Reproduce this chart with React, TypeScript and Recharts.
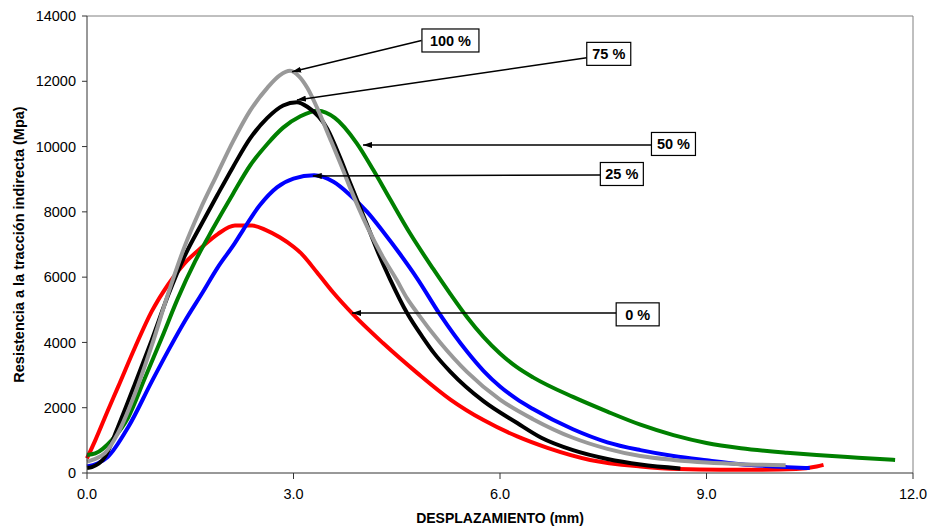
import {
  LineChart,
  Line,
  XAxis,
  YAxis,
  ReferenceLine,
  ReferenceDot,
} from 'recharts';

type Pt = [number, number];

// desplazamiento (mm), resistencia (Mpa)
const curve0: Pt[] = [
  [0, 450], [0.12, 1000], [0.3, 1900], [0.45, 2630], [0.7, 3860], [0.94, 4950],
  [1.18, 5780], [1.42, 6430], [1.67, 6920], [1.9, 7320], [2.15, 7580], [2.4, 7580],
  [2.6, 7440], [2.8, 7220], [3.0, 6930], [3.1, 6750], [3.34, 6150], [3.58, 5520],
  [3.87, 4850], [4.3, 3980], [4.8, 3060], [5.28, 2250], [5.76, 1620], [6.25, 1120],
  [6.69, 770], [7.31, 400], [8.04, 200], [8.6, 120], [9.2, 100], [9.8, 100],
  [10.3, 120], [10.6, 200], [10.7, 250],
];

const curve25: Pt[] = [
  [0, 200], [0.3, 490], [0.6, 1410], [0.94, 2800], [1.18, 3750], [1.42, 4650],
  [1.67, 5500], [1.9, 6300], [2.15, 7050], [2.27, 7450], [2.51, 8200], [2.76, 8750],
  [3.0, 9020], [3.3, 9120], [3.58, 8920], [3.82, 8520], [4.07, 8000], [4.3, 7400],
  [4.55, 6700], [4.8, 5950], [5.13, 4850], [5.52, 3720], [5.76, 3130], [6.0, 2650],
  [6.24, 2270], [6.48, 1960], [7.06, 1340], [7.56, 940], [8.04, 700], [8.52, 520],
  [9.0, 390], [9.5, 270], [10.17, 180], [10.5, 150],
];

const curve50: Pt[] = [
  [0, 550], [0.12, 600], [0.36, 1010], [0.6, 1710], [0.84, 2900], [1.09, 4160],
  [1.32, 5350], [1.57, 6480], [1.82, 7450], [2.12, 8550], [2.37, 9420], [2.62, 10080],
  [2.85, 10580], [3.1, 10930], [3.36, 11100], [3.6, 10880], [3.92, 10100], [4.16, 9280],
  [4.4, 8400], [4.69, 7350], [5.03, 6250], [5.28, 5480], [5.52, 4780], [5.76, 4170],
  [6.0, 3660], [6.24, 3250], [6.48, 2930], [7.06, 2330], [7.56, 1880], [8.04, 1480],
  [8.52, 1160], [9.0, 920], [9.5, 760], [10.17, 620], [10.6, 550], [11.2, 470],
  [11.74, 400],
];

const curve75: Pt[] = [
  [0, 150], [0.07, 180], [0.26, 490], [0.45, 1410], [0.7, 2750], [0.94, 4070],
  [1.18, 5450], [1.42, 6650], [1.67, 7650], [1.89, 8500], [2.12, 9370], [2.37, 10250],
  [2.62, 10880], [2.85, 11260], [3.05, 11360], [3.2, 11220], [3.49, 10550], [3.68, 9650],
  [3.82, 8900], [3.92, 8380], [4.07, 7600], [4.26, 6600], [4.4, 5950], [4.65, 4900],
  [4.88, 4150], [5.05, 3650], [5.28, 3100], [5.76, 2200], [6.25, 1530], [6.6, 1080],
  [7.06, 700], [7.56, 430], [8.04, 260], [8.62, 140],
];

const curve100: Pt[] = [
  [0, 350], [0.1, 420], [0.26, 610], [0.45, 1220], [0.7, 2450], [0.94, 3900],
  [1.18, 5500], [1.42, 6950], [1.64, 8050], [1.89, 9150], [2.12, 10150], [2.37, 11100],
  [2.62, 11800], [2.8, 12180], [2.95, 12320], [3.08, 12150], [3.2, 11800], [3.34, 11200],
  [3.53, 10250], [3.72, 9280], [3.82, 8750], [4.07, 7550], [4.3, 6610], [4.5, 5910],
  [4.65, 5350], [4.8, 4900], [5.13, 4000], [5.52, 3100], [6.0, 2250], [6.48, 1650],
  [7.06, 1080], [7.56, 740], [8.04, 520], [8.52, 400], [9.0, 320], [9.5, 270],
  [10.15, 240],
];

const xTicks = [0, 3, 6, 9, 12];
const yTicks = [0, 2000, 4000, 6000, 8000, 10000, 12000, 14000];

// callout labels: box centre, arrow tail and tip (data units)
const labels = ['100 %', '75 %', '50 %', '25 %', '0 %'];
const boxX = [5.28, 7.58, 8.52, 7.77, 8.0];
const boxY = [13250, 12840, 10080, 9160, 4860];
const boxW = [57, 44, 44, 43, 43];
const tailPts: Pt[] = [[4.86, 13250], [7.26, 12720], [8.2, 10050], [7.46, 9130], [7.69, 4900]];
const tipPts: Pt[] = [[2.98, 12290], [3.05, 11430], [4.01, 10050], [3.28, 9100], [3.85, 4900]];

const series = [
  { name: '0 %', pts: curve0, color: '#ff0000' },
  { name: '25 %', pts: curve25, color: '#0000ff' },
  { name: '50 %', pts: curve50, color: '#008000' },
  { name: '75 %', pts: curve75, color: '#000000' },
  { name: '100 %', pts: curve100, color: '#999999' },
];

const font = '"Liberation Sans", Arial, sans-serif';

export default function App() {
  return (
    <div style={{ position: 'absolute', left: 0, top: 0, background: '#fff' }}>
      <LineChart
        width={932}
        height={531}
        margin={{ top: 16, right: 19, left: 0, bottom: 8 }}
        style={{ fontFamily: font }}
      >
        <defs>
          <marker id="arrowHead" markerWidth="9" markerHeight="6" refX="9" refY="3" orient="auto" markerUnits="userSpaceOnUse">
            <path d="M0,0 L9,3 L0,6 Z" fill="#000" />
          </marker>
        </defs>
        <XAxis
          type="number"
          dataKey="x"
          domain={[0, 12]}
          ticks={xTicks}
          tickFormatter={(v: number) => v.toFixed(1)}
          height={50}
          tickSize={6}
          tickMargin={10}
          stroke="#333"
          tick={{ fill: '#000', fontSize: 14.5 }}
          label={{
            value: 'DESPLAZAMIENTO (mm)',
            position: 'insideBottom',
            offset: 0,
            style: { fontWeight: 'bold', fontSize: 14, fill: '#000' },
          }}
        />
        <YAxis
          type="number"
          dataKey="y"
          domain={[0, 14000]}
          ticks={yTicks}
          width={87}
          tickSize={5}
          tickMargin={6}
          stroke="#333"
          tick={{ fill: '#000', fontSize: 14.5 }}
          label={{
            value: 'Resistencia a la tracción indirecta (Mpa)',
            angle: -90,
            position: 'insideLeft',
            offset: 19,
            style: { textAnchor: 'middle', fontWeight: 'bold', fontSize: 14.5, fill: '#000' },
          }}
        />
        <ReferenceLine y={14000} stroke="#808080" />
        <ReferenceLine x={12} stroke="#808080" />
        {series.map(s => (
          <Line
            key={s.name}
            data={s.pts.map(([x, y]) => ({ x, y }))}
            dataKey="y"
            name={s.name}
            type="monotone"
            stroke={s.color}
            strokeWidth={4}
            dot={false}
            activeDot={false}
            isAnimationActive={false}
          />
        ))}
        {labels.map((lab, i) => (
          <ReferenceLine
            key={'arr' + lab}
            segment={[
              { x: tailPts[i][0], y: tailPts[i][1] },
              { x: tipPts[i][0], y: tipPts[i][1] },
            ]}
            shape={(p: any) => (
              <line x1={p.x1} y1={p.y1} x2={p.x2} y2={p.y2} stroke="#000" strokeWidth={1.5} markerEnd="url(#arrowHead)" />
            )}
          />
        ))}
        {labels.map((lab, i) => (
          <ReferenceDot
            key={'box' + lab}
            x={boxX[i]}
            y={boxY[i]}
            r={1}
            shape={(p: any) => (
              <g>
                <rect x={p.cx - boxW[i] / 2} y={p.cy - 11.5} width={boxW[i]} height={23} fill="#fff" stroke="#000" strokeWidth={1.2} />
                <text x={p.cx} y={p.cy} dy="0.36em" textAnchor="middle" fontWeight="bold" fontSize={14.5} fill="#000">
                  {lab}
                </text>
              </g>
            )}
          />
        ))}
      </LineChart>
    </div>
  );
}
